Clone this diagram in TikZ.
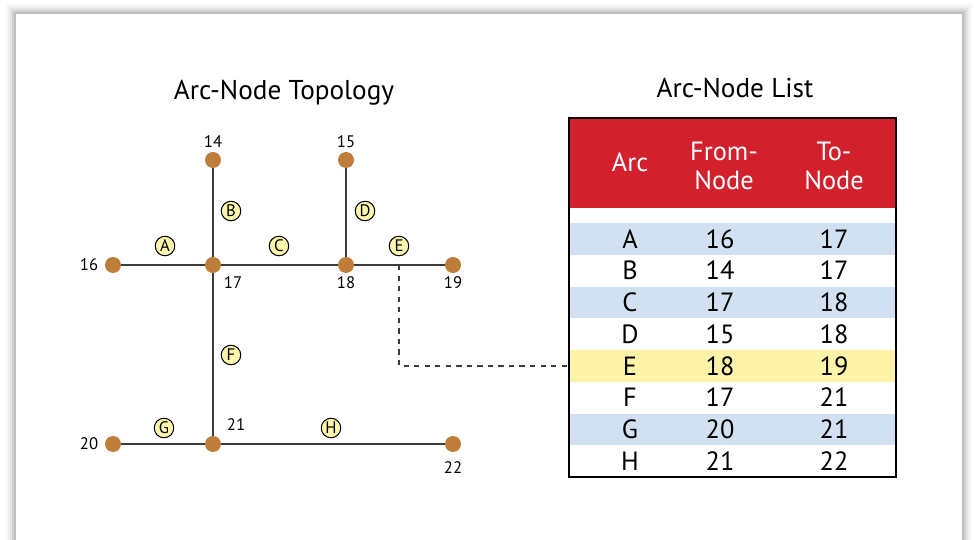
\documentclass[tikz,border=0pt]{standalone}
\usepackage{fontspec}
\setmainfont{PT Sans}
\definecolor{nodebrown}{RGB}{190,126,58}
\definecolor{arcyellow}{RGB}{253,246,172}
\definecolor{headred}{RGB}{210,33,45}
\definecolor{rowblue}{RGB}{210,225,242}
\definecolor{rowyellow}{RGB}{252,243,169}
\definecolor{edgegray}{RGB}{60,60,60}

\begin{document}
\begin{tikzpicture}
      [x=0.02cm, y=-0.02cm,
       vert/.style={circle, fill=nodebrown, inner sep=0pt, minimum size=0.32cm},
       arclbl/.style={circle, draw, line width=0.6pt, fill=arcyellow, inner sep=0pt, minimum size=0.39cm, font=\fontsize{9.5}{10}\selectfont},
       lbl/.style={font=\fontsize{9.5}{10}\selectfont},
       edge/.style={draw=edgegray, line width=1.1pt},
       row/.style={inner sep=0pt, minimum width=6.54cm, minimum height=0.635cm},
       cell/.style={font=\fontsize{15}{17}\selectfont},
       headcell/.style={font=\fontsize{15}{17}\selectfont, text=white, align=center}]
      % card with shadow
      \useasboundingbox (0,0) rectangle (974,540);
      \foreach \d/\g in {10/5, 8/12, 6/22, 4/35, 2/50, 0/65}
        \fill[gray!\g] (16-\d,14-\d) rectangle (962+\d,540);
      \fill[white] (16,14) rectangle (962,540);

      % topology
      \node(title1) at (284,93) {\fontsize{15.5}{18}\selectfont Arc-Node Topology};
      \node[vert](n14) at (213,160) {};
      \node[vert](n15) at (346,160) {};
      \node[vert](n16) at (113,265) {};
      \node[vert](n17) at (213,265) {};
      \node[vert](n18) at (346,265) {};
      \node[vert](n19) at (453,265) {};
      \node[vert](n20) at (113,444) {};
      \node[vert](n21) at (213,444) {};
      \node[vert](n22) at (453,444) {};
      \node[lbl](l14) at (213,142) {14};
      \node[lbl](l15) at (346,142) {15};
      \node[lbl](l16) at (89,265) {16};
      \node[lbl](l17) at (233,283) {17};
      \node[lbl](l18) at (346,283) {18};
      \node[lbl](l19) at (453,283) {19};
      \node[lbl](l20) at (89,444) {20};
      \node[lbl](l21) at (236,425) {21};
      \node[lbl](l22) at (453,468) {22};
      \draw[edge](n16) -- (n17);
      \draw[edge](n17) -- (n18);
      \draw[edge](n18) -- (n19);
      \draw[edge](n14) -- (n17);
      \draw[edge](n15) -- (n18);
      \draw[edge](n17) -- (n21);
      \draw[edge](n20) -- (n21);
      \draw[edge](n21) -- (n22);
      \node[arclbl](aA) at (165,246) {A};
      \node[arclbl](aB) at (231,211) {B};
      \node[arclbl](aC) at (279,246) {C};
      \node[arclbl](aD) at (365,211) {D};
      \node[arclbl](aE) at (399,246) {E};
      \node[arclbl](aF) at (231,355) {F};
      \node[arclbl](aG) at (164,428) {G};
      \node[arclbl](aH) at (331,428) {H};

      % list
      \node(title2) at (735,88) {\fontsize{15.5}{18}\selectfont Arc-Node List};
      \node[row, fill=headred, minimum height=1.8cm](head) at (732.5,163) {};
      \node[headcell](h1) at (630,162) {Arc};
      \node[headcell](h2) at (724,166) {From-\\Node};
      \node[headcell](h3) at (834,166) {To-\\Node};
      \node[row, fill=rowblue](rA) at (732.5,238.9) {};
      \node[row, fill=white](rB) at (732.5,270.6) {};
      \node[row, fill=rowblue](rC) at (732.5,302.4) {};
      \node[row, fill=white](rD) at (732.5,334.1) {};
      \node[row, fill=rowyellow](rE) at (732.5,365.9) {};
      \node[row, fill=white](rF) at (732.5,397.6) {};
      \node[row, fill=rowblue](rG) at (732.5,429.4) {};
      \node[row, fill=white](rH) at (732.5,461.1) {};
      \node[cell](cA1) at (630,238.9) {A};
      \node[cell](cA2) at (720,238.9) {16};
      \node[cell](cA3) at (834,238.9) {17};
      \node[cell](cB1) at (630,270.6) {B};
      \node[cell](cB2) at (720,270.6) {14};
      \node[cell](cB3) at (834,270.6) {17};
      \node[cell](cC1) at (630,302.4) {C};
      \node[cell](cC2) at (720,302.4) {17};
      \node[cell](cC3) at (834,302.4) {18};
      \node[cell](cD1) at (630,334.1) {D};
      \node[cell](cD2) at (720,334.1) {15};
      \node[cell](cD3) at (834,334.1) {18};
      \node[cell](cE1) at (630,365.9) {E};
      \node[cell](cE2) at (720,365.9) {18};
      \node[cell](cE3) at (834,365.9) {19};
      \node[cell](cF1) at (630,397.6) {F};
      \node[cell](cF2) at (720,397.6) {17};
      \node[cell](cF3) at (834,397.6) {21};
      \node[cell](cG1) at (630,429.4) {G};
      \node[cell](cG2) at (720,429.4) {20};
      \node[cell](cG3) at (834,429.4) {21};
      \node[cell](cH1) at (630,461.1) {H};
      \node[cell](cH2) at (720,461.1) {21};
      \node[cell](cH3) at (834,461.1) {22};
      \node[row, draw, line width=1.2pt, minimum height=7.18cm](tbl) at (732.5,297.5) {};

      % link from arc E to its row
      \coordinate(e1) at (399,265);
      \draw[edge, dashed](e1) |- (rE.west);
  \end{tikzpicture}
\end{document}
